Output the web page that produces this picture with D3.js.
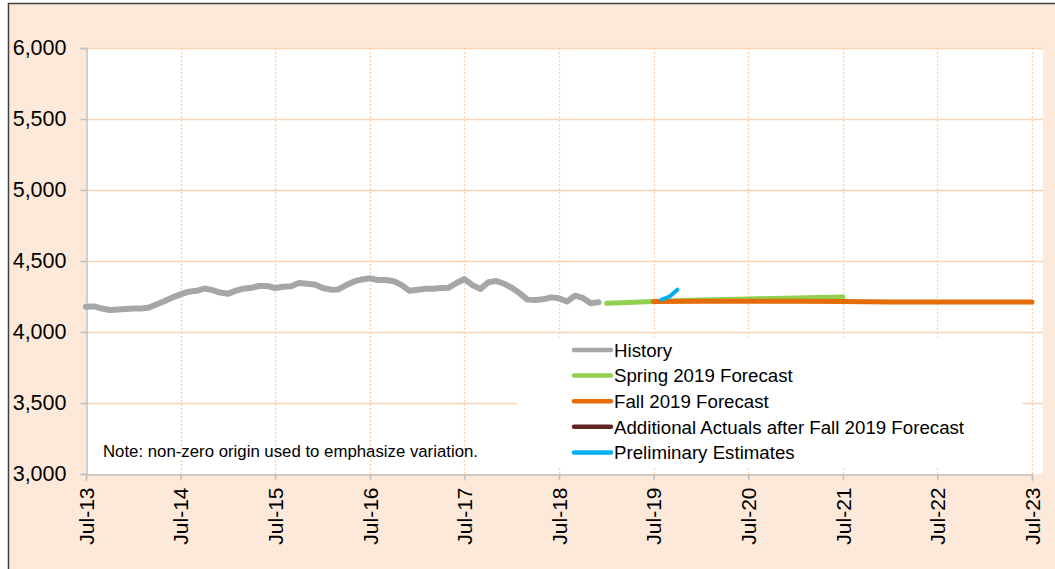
<!DOCTYPE html>
<html>
<head>
<meta charset="utf-8">
<script src="https://cdn.jsdelivr.net/npm/d3@7"></script>
<style>
	body { margin: 0; background: #ffffff; }
	svg { display: block; }
</style>
</head>
<body>
<div id="container"></div>
<script>
/* Police */
const fontPolice = "'Liberation Sans', Arial, sans-serif";

/* Historique mensuel, de Jul-13 a Dec-18 */
const historyStart = "2013-07";
const historyValues = [4178, 4180, 4165, 4155, 4158, 4162, 4165, 4166, 4172, 4195, 4218, 4244,
	4265, 4284, 4290, 4306, 4295, 4278, 4270, 4291, 4305, 4312, 4324, 4324,
	4310, 4318, 4322, 4345, 4340, 4334, 4310, 4298, 4300, 4330, 4356, 4370,
	4378, 4366, 4366, 4358, 4330, 4290, 4298, 4305, 4305, 4310, 4312, 4345,
	4373, 4330, 4303, 4350, 4359, 4340, 4310, 4270, 4228, 4225, 4230, 4244,
	4237, 4215, 4256, 4240, 4202, 4209];

/* Prevision du printemps 2019 */
const springDates = ["2019-01", "2019-07", "2020-01", "2020-07", "2021-01", "2021-07"];
const springValues = [4202, 4215, 4225, 4233, 4240, 4246];

/* Prevision de l'automne 2019 */
const fallDates = ["2019-07", "2020-01", "2020-07", "2021-01", "2021-07", "2022-01", "2022-07", "2023-01", "2023-07"];
const fallValues = [4215, 4216, 4217, 4216, 4215, 4212, 4212, 4212, 4212];

/* Donnees reelles apres la prevision (aucun point visible) */
const actualDates = [];
const actualValues = [];

/* Estimations preliminaires */
const prelimDates = ["2019-08", "2019-09", "2019-10"];
const prelimValues = [4228, 4250, 4298];

/* Graduations */
const yTicks = [3000, 3500, 4000, 4500, 5000, 5500, 6000];
const xTickYears = [2013, 2014, 2015, 2016, 2017, 2018, 2019, 2020, 2021, 2022, 2023];

/* Legende */
const seriesNames = ["History", "Spring 2019 Forecast", "Fall 2019 Forecast",
	"Additional Actuals after Fall 2019 Forecast", "Preliminary Estimates"];
const seriesColors = ["#a6a6a6", "#92d050", "#e46c0a", "#632523", "#00b0f0"];
const seriesWidths = [6, 5, 5, 5, 4];

const noteText = "Note: non-zero origin used to emphasize variation.";

/* Dimensions */
const width = 1055, height = 569;
const plotLeft = 86, plotRight = 1043, plotTop = 48, plotBottom = 474;

const parseMonth = d3.timeParse("%Y-%m");
const formatTick = d3.timeFormat("%b-%y");

const svg = d3.select("#container").append("svg")
	.attr("width", width)
	.attr("height", height);

/* Fond et cadre */
svg.append("rect")
	.attr("x", 0).attr("y", 0)
	.attr("width", width).attr("height", height)
	.attr("fill", "#ffffff");
svg.append("rect")
	.attr("x", 8.5).attr("y", 3.5)
	.attr("width", width).attr("height", height)
	.attr("fill", "#fde9da")
	.attr("stroke", "#404040")
	.attr("stroke-width", 1.5);

/* Zone du graphe */
svg.append("rect")
	.attr("x", plotLeft).attr("y", plotTop)
	.attr("width", plotRight - plotLeft).attr("height", plotBottom - plotTop)
	.attr("fill", "#ffffff");

/* Echelles */
const x = d3.scaleTime()
	.domain([new Date(2013, 6, 1), new Date(2023, 6, 1)])
	.range([plotLeft, 1032]);
const y = d3.scaleLinear()
	.domain([3000, 6000])
	.range([plotBottom, plotTop]);

const xTicks = xTickYears.map(function(yr){ return new Date(yr, 6, 1); });

/* Grille horizontale */
svg.append("g").selectAll("line")
	.data(yTicks.filter(function(d){ return d > 3000; }))
	.enter().append("line")
		.attr("x1", plotLeft).attr("x2", plotRight)
		.attr("y1", function(d){ return Math.round(y(d)) + 0.5; })
		.attr("y2", function(d){ return Math.round(y(d)) + 0.5; })
		.attr("stroke", "#fbd4b4")
		.attr("stroke-width", 1.5);

/* Grille verticale en pointilles */
svg.append("g").selectAll("line")
	.data(xTicks.slice(1))
	.enter().append("line")
		.attr("x1", function(d){ return Math.round(x(d)) + 0.5; })
		.attr("x2", function(d){ return Math.round(x(d)) + 0.5; })
		.attr("y1", plotTop).attr("y2", plotBottom + 4)
		.attr("stroke", "#fbd0ad")
		.attr("stroke-width", 1.3)
		.attr("stroke-dasharray", "2,2");

/* Axe des y */
const yAxis = svg.append("g")
	.attr("transform", "translate(" + (plotLeft + 0.5) + ",0)")
	.call(d3.axisLeft(y).tickValues(yTicks).tickFormat(d3.format(",")).tickSizeOuter(0).tickSize(6).tickPadding(14));
yAxis.select(".domain").attr("stroke", "#c0c0c0").attr("stroke-width", 1.5);
yAxis.selectAll(".tick line").attr("stroke", "#c0c0c0").attr("stroke-width", 1.5);
yAxis.selectAll(".tick text")
	.attr("fill", "#000000")
	.style("font-family", fontPolice)
	.style("font-size", "21.5px");

/* Axe des x */
const xAxis = svg.append("g")
	.attr("transform", "translate(0," + (plotBottom + 0.5) + ")")
	.call(d3.axisBottom(x).tickValues(xTicks).tickFormat(formatTick).tickSizeOuter(0).tickSize(6));
xAxis.select(".domain").attr("stroke", "#c0c0c0").attr("stroke-width", 1.5);
xAxis.selectAll(".tick line").attr("stroke", "#c0c0c0").attr("stroke-width", 1.5);
xAxis.selectAll(".tick text")
	.attr("fill", "#000000")
	.attr("transform", "rotate(-90)")
	.attr("x", -13)
	.attr("y", 0)
	.attr("dy", "0.35em")
	.style("text-anchor", "end")
	.style("font-family", fontPolice)
	.style("font-size", "21px");

/* Note */
svg.append("text")
	.attr("x", 103)
	.attr("y", 457)
	.style("font-family", fontPolice)
	.style("font-size", "16.8px")
	.attr("fill", "#000000")
	.text(noteText);

/* Construction des series */
const line = d3.line()
	.x(function(d){ return x(d.date); })
	.y(function(d){ return y(d.value); });

function buildSeries(dates, values) {
	return values.map(function(v, i){ return { date: dates[i], value: v }; });
}

const historyDates = historyValues.map(function(v, i){
	return d3.timeMonth.offset(parseMonth(historyStart), i);
});

const allSeries = [
	buildSeries(historyDates, historyValues),
	buildSeries(springDates.map(parseMonth), springValues),
	buildSeries(fallDates.map(parseMonth), fallValues),
	buildSeries(actualDates.map(parseMonth), actualValues),
	buildSeries(prelimDates.map(parseMonth), prelimValues)
];

/* Legende (fond blanc par-dessus la grille) */
const legend = svg.append("g").attr("transform", "translate(517,337)");
legend.append("rect")
	.attr("width", 505).attr("height", 129)
	.attr("fill", "#ffffff");

const legendRows = legend.selectAll("g")
	.data(seriesNames)
	.enter().append("g")
		.attr("transform", function(d, i){ return "translate(0," + (13 + i * 25.6) + ")"; });
legendRows.append("line")
	.attr("x1", 57).attr("x2", 94)
	.attr("y1", 0).attr("y2", 0)
	.attr("stroke", function(d, i){ return seriesColors[i]; })
	.attr("stroke-width", 4.5)
	.attr("stroke-linecap", "round");
legendRows.append("text")
	.attr("x", 97)
	.attr("y", 0)
	.attr("dy", "0.36em")
	.style("font-family", fontPolice)
	.style("font-size", "18.7px")
	.attr("fill", "#000000")
	.text(function(d){ return d; });

/* Tracés */
svg.append("g").selectAll("path")
	.data(allSeries)
	.enter().append("path")
		.attr("d", function(d){ return d.length ? line(d) : null; })
		.attr("fill", "none")
		.attr("stroke", function(d, i){ return seriesColors[i]; })
		.attr("stroke-width", function(d, i){ return seriesWidths[i]; })
		.attr("stroke-linejoin", "round")
		.attr("stroke-linecap", "round");
</script>
</body>
</html>
